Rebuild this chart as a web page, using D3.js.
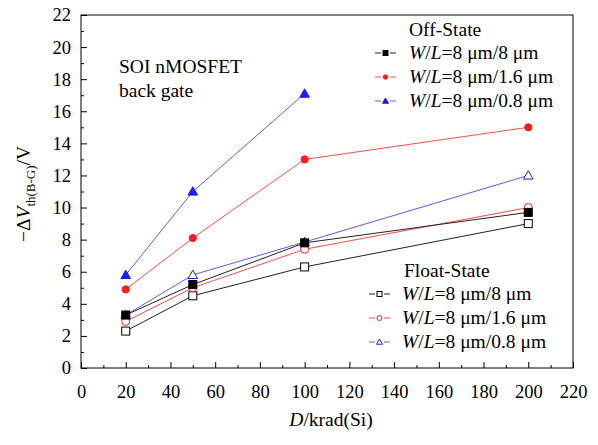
<!DOCTYPE html>
<html><head><meta charset="utf-8">
<script src="https://cdn.jsdelivr.net/npm/d3@7"></script>
<style>body{margin:0;background:#fff}svg{display:block}</style>
</head><body><svg id="c" width="598" height="445"></svg>
<script>
const doses = [20, 50, 100, 200];
const offSquare = [3.3, 5.2, 7.8, 9.7];
const offCircle = [4.9, 8.1, 13.0, 15.0];
const offTriangle = [5.8, 11.0, 17.1];
const floatSquare = [2.3, 4.5, 6.3, 9.0];
const floatCircle = [2.9, 5.0, 7.4, 10.0];
const floatTriangle = [3.3, 5.8, 7.85, 12.0];
const xTicks = d3.range(0, 221, 20);
const yTicks = d3.range(0, 23, 2);
const legendLabel = "=8 \u03bcm/";
const FONT = '"Liberation Serif", "Times New Roman", Tinos, "DejaVu Serif", serif';
const series = [
  {name:"8 \u03bcm", vals:floatSquare, color:"#000", line:"#222", shape:"square", fill:false},
  {name:"1.6 \u03bcm", vals:floatCircle, color:"#ff1a1a", line:"#ff4a4a", shape:"circle", fill:false},
  {name:"0.8 \u03bcm", vals:floatTriangle, color:"#1a1aff", line:"#5a5aff", shape:"triangle", fill:false},
  {name:"8 \u03bcm", vals:offSquare, color:"#000", line:"#222", shape:"square", fill:true},
  {name:"1.6 \u03bcm", vals:offCircle, color:"#ff1a1a", line:"#ff4a4a", shape:"circle", fill:true},
  {name:"0.8 \u03bcm", vals:offTriangle, color:"#1a1aff", line:"#5a5aff", shape:"triangle", fill:true}
];
const svg = d3.select("#c");
const L=81, R=573, T=15, B=368;
const x = d3.scaleLinear().domain([0,220]).range([L,R]);
const y = d3.scaleLinear().domain([0,22]).range([B,T]);

svg.append("rect").attr("x",L).attr("y",T).attr("width",R-L).attr("height",B-T).attr("fill","none").attr("stroke","#000").attr("stroke-width",1);
const gx = svg.append("g").attr("transform",`translate(0,${B})`);
gx.call(d3.axisBottom(x).tickValues(xTicks).tickSize(-6).tickPadding(17).tickFormat(d3.format("d")));
gx.append("g").call(d3.axisBottom(x).tickValues(d3.range(10,221,20)).tickSize(-3).tickFormat(""));
const gy = svg.append("g").attr("transform",`translate(${L},0)`);
gy.call(d3.axisLeft(y).tickValues(yTicks).tickSize(-6).tickPadding(10).tickFormat(d3.format("d")));
gy.append("g").call(d3.axisLeft(y).tickValues(d3.range(1,22,2)).tickSize(-3).tickFormat(""));
svg.selectAll(".domain").remove();
svg.selectAll("g").attr("font-family",null).attr("font-size",null);
svg.selectAll(".tick line").attr("stroke","#000");
svg.selectAll(".tick text").attr("fill","#000").style("font-size","18.5px");

function marker(g, shape, color, fill, cx, cy, s){
  const f = fill ? color : "#fff";
  if(shape==="square") g.append("rect").attr("x",cx-s/2).attr("y",cy-s/2).attr("width",s).attr("height",s).attr("fill",f).attr("stroke",color).attr("stroke-width",1);
  else if(shape==="circle") g.append("circle").attr("cx",cx).attr("cy",cy).attr("r",fill?s*0.45:s*0.5).attr("fill",f).attr("stroke",color).attr("stroke-width",1);
  else g.append("path").attr("d",`M${cx},${cy-s*0.6}L${cx+s*0.6},${cy+s*0.45}L${cx-s*0.6},${cy+s*0.45}Z`).attr("fill",f).attr("stroke",color).attr("stroke-width",1);
}
const line = d3.line().x(d=>x(d[0])).y(d=>y(d[1]));
series.forEach(s=>{
  const pts = s.vals.map((v,i)=>[doses[i],v]);
  svg.append("path").attr("d",line(pts)).attr("fill","none").attr("stroke",s.line).attr("stroke-width",1);
  const g = svg.append("g");
  pts.forEach(p=>marker(g,s.shape,s.color,s.fill,x(p[0]),y(p[1]),8));
});

function legend(title, tx, ty, x0, textX, rows, fill){
  svg.append("text").attr("x",tx).attr("y",ty).text(title);
  rows.forEach((s,i)=>{
    const yy = ty+22+24*i-5;
    svg.append("line").attr("x1",x0).attr("x2",x0+6).attr("y1",yy).attr("y2",yy).attr("stroke",s.line).attr("stroke-width",1);
    svg.append("line").attr("x1",x0+15).attr("x2",x0+21).attr("y1",yy).attr("y2",yy).attr("stroke",s.line).attr("stroke-width",1);
    marker(svg.append("g"), s.shape, s.color, fill, x0+10.5, yy, 5);
    const t = svg.append("text").attr("x",textX).attr("y",yy+6);
    t.append("tspan").style("font-style","italic").text("W");
    t.append("tspan").text("/");
    t.append("tspan").style("font-style","italic").text("L");
    t.append("tspan").text(legendLabel+s.name);
  });
}
legend("Off-State", 409, 36, 375, 409, series.slice(3), true);
legend("Float-State", 404, 277, 369, 402, series.slice(0,3), false);

svg.append("text").attr("x",119).attr("y",73).text("SOI nMOSFET");
svg.append("text").attr("x",119).attr("y",97).text("back gate");

const xl = svg.append("text").attr("x",331).attr("y",426).attr("text-anchor","middle");
xl.append("tspan").style("font-style","italic").text("D");
xl.append("tspan").text("/krad(Si)");
const yl = svg.append("text").attr("transform","translate(30,194) rotate(-90)").attr("text-anchor","middle");
yl.append("tspan").text("\u2212\u0394");
yl.append("tspan").style("font-style","italic").text("V");
yl.append("tspan").attr("dy",5).style("font-size","13px").text("th(B-G)");
yl.append("tspan").attr("dy",-5).text("/V");

svg.selectAll("text").style("font-family",FONT).style("font-size",function(){return this.style.fontSize||"19.5px";}).attr("fill","#000");
</script></body></html>
